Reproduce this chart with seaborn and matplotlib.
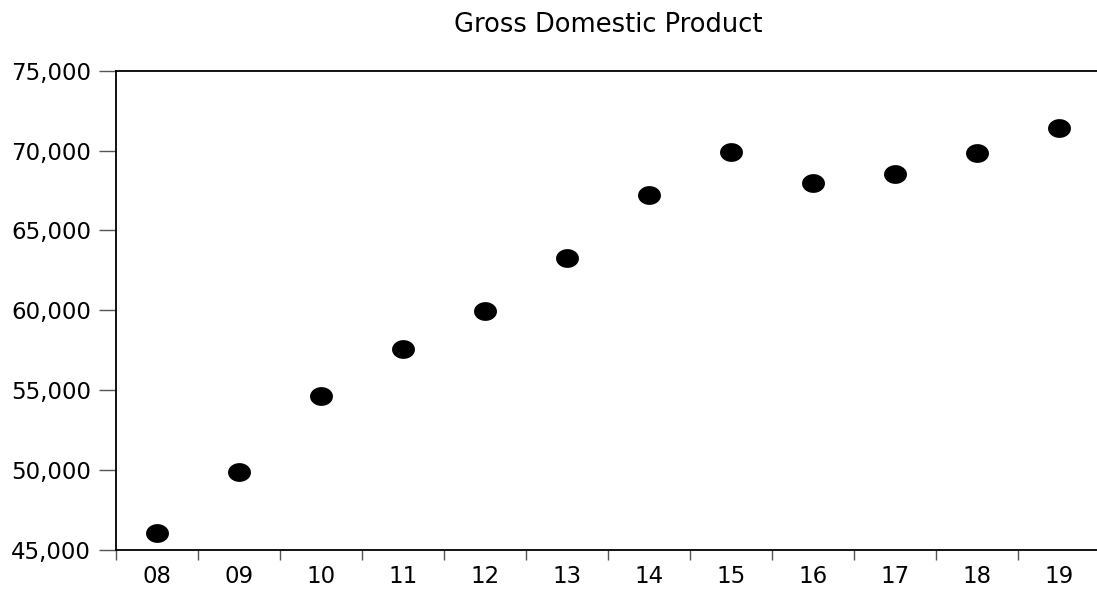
import numpy as np
import pandas as pd
import matplotlib
matplotlib.use('Agg')
import matplotlib.pyplot as plt
from matplotlib.path import Path
from matplotlib.ticker import FixedLocator, FuncFormatter
import seaborn as sns

# Data
years = ['08', '09', '10', '11', '12', '13', '14', '15', '16', '17', '18', '19']
gdp = [46060, 49900, 54660, 57590, 59980, 63300, 67190, 69940, 67960, 68530, 69840, 71410]

df = pd.DataFrame({'Year': years, 'GDP': gdp})

sns.set_style('white')
plt.rcParams['font.family'] = ['DejaVu Sans']

# slightly flattened dot, like the original
theta = np.linspace(0, 2 * np.pi, 60)
ellipse = Path(np.column_stack([np.cos(theta), 0.82 * np.sin(theta)]), closed=True)

fig = plt.figure(figsize=(10.97, 5.90), dpi=100)
ax = fig.add_axes([116 / 1097, 1 - 550 / 590, 984 / 1097, (550 - 70.7) / 590])

sns.stripplot(data=df, x='Year', y='GDP', ax=ax, jitter=False,
              color='black', marker=ellipse, size=16.5, linewidth=0)

ax.set_xlim(-0.5, len(years) - 0.5)
ax.set_ylim(45000, 75000)
ax.set_yticks(np.arange(45000, 75001, 5000))
ax.yaxis.set_major_formatter(FuncFormatter(lambda v, p: f'{int(v):,}'))
ax.xaxis.set_minor_locator(FixedLocator(np.arange(-0.5, len(years), 1.0)))

ax.tick_params(axis='x', which='major', length=0, labelsize=16.5, pad=11, labelcolor='black')
ax.tick_params(axis='x', which='minor', length=7, width=1, color='#555555', direction='out', bottom=True)
ax.tick_params(axis='y', length=12, width=1, color='#555555', direction='out', left=True,
               labelsize=16.5, pad=6, labelcolor='black')

for side in ['left', 'top', 'bottom']:
    ax.spines[side].set_visible(True)
    ax.spines[side].set_color('black')
    ax.spines[side].set_linewidth(1.3)
ax.spines['right'].set_visible(False)

ax.set_xlabel('')
ax.set_ylabel('')
ax.set_title('Gross Domestic Product', fontsize=18.5, color='black', pad=28)

fig.savefig('out.png', dpi=100)
